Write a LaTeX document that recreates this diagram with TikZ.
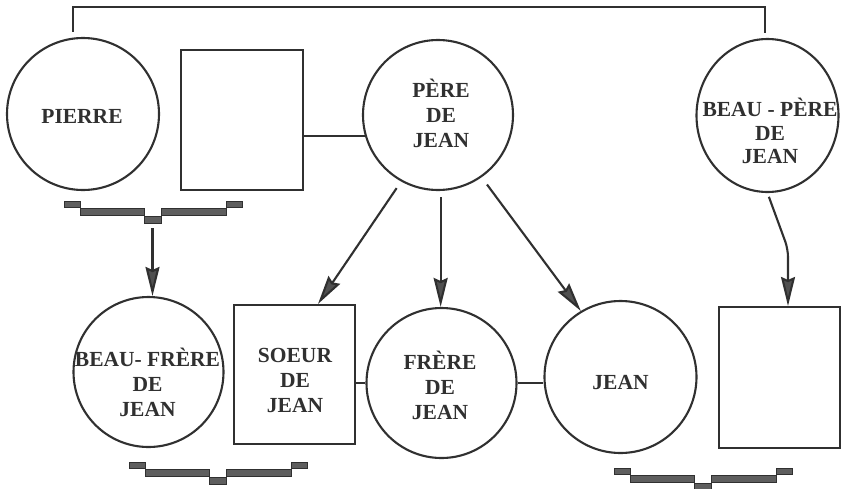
\documentclass[tikz,border=0pt]{standalone}
\usepackage{fontspec}
\setmainfont{Liberation Serif}
\usetikzlibrary{arrows.meta,shapes.geometric,calc}
\definecolor{ink}{HTML}{303030}
\definecolor{tipfill}{HTML}{505050}
\definecolor{barfill}{HTML}{5E5E5E}
\begin{document}
\begin{tikzpicture}[x=1pt,y=-1pt,
  pc/.style={circle,draw=ink,line width=2.1pt,inner sep=0pt,minimum size=#1},
  pe/.style={ellipse,draw=ink,line width=2.1pt,inner sep=0pt},
  pr/.style={rectangle,draw=ink,line width=2.1pt,inner sep=0pt},
  lbl/.style={text=ink,align=center,inner sep=0pt,font=\fontsize{21.5}{25}\selectfont\bfseries},
  link/.style={draw=ink,line width=2.1pt},
  arr/.style={link,-{Stealth[length=29pt,width=14pt,inset=3pt,fill=tipfill]}},
  bracepart/.style={fill=barfill,draw=ink,line width=0.7pt},
  brace/.pic={
    \path[bracepart] (0,0) rectangle (16,6);
    \path[bracepart] (16,7) rectangle (80,14);
    \path[bracepart] (80,15) rectangle (97,22);
    \path[bracepart] (97,7) rectangle (162,14);
    \path[bracepart] (162,0) rectangle (178,6);
    \coordinate (-tip) at (88.5,27);
  }
]
\useasboundingbox (0,0) rectangle (841,488);
\fill[white] (0,0) rectangle (841,488);

% shapes
\node[pc=152] (pierre) at (83,114) {};
\node[pr,minimum width=122,minimum height=140] (r1) at (242,120) {};
\node[pc=150] (pere) at (438,115) {};
\node[pe,minimum width=142,minimum height=153] (bp) at (767.5,115.5) {};
\node[pc=150] (bf) at (148.5,372) {};
\node[pr,minimum width=121,minimum height=139] (soeur) at (294.5,374.5) {};
\node[pc=150] (frere) at (441.5,383) {};
\node[pc=152] (jean) at (620.5,377) {};
\node[pr,minimum width=121,minimum height=141] (rr) at (779.5,377.5) {};

% labels
\node[lbl] (pierre-t) at (82,116) {PIERRE};
\node[lbl] (pere-t) at (441,113.5) {PÈRE\\DE\\JEAN};
\node[lbl,font=\fontsize{21.5}{23.5}\selectfont\bfseries] (bp-t) at (770,131) {BEAU - PÈRE\\DE\\JEAN};
\node[lbl] (bf-t) at (147.5,382) {BEAU- FRÈRE\\DE\\JEAN};
\node[lbl] (soeur-t) at (295,380) {SOEUR\\DE\\JEAN};
\node[lbl] (frere-t) at (440,385) {FRÈRE\\DE\\JEAN};
\node[lbl] (jean-t) at (620.5,383) {JEAN};

% braces
\path (64,201) pic (b1) {brace};
\path (129,462) pic (b2) {brace};
\path (614,468) pic (b3) {brace};

% top connector
\coordinate (tl) at (73,7);
\coordinate (tr) at (765,7);
\draw[link,shorten <=5pt,shorten >=5pt] (pierre.north -| tl) -- (tl) -- (tr) -- (bp.north -| tr);

% couple links
\draw[link] (pere.196) -- (pere.196 -| r1.east);
\draw[link] (frere.west) -- (frere.west -| soeur.east);
\draw[link] (frere.east) -- (frere.east -| jean.west);

% arrows
\draw[arr] (b1-tip) -- (b1-tip |- bf.north);
\draw[arr,shorten <=8pt] (pere.241) -- ([xshift=23.5pt]soeur.north);
\draw[arr,shorten <=6pt] (pere.272) -- (pere.272 |- frere.north);
\draw[arr,shorten <=9pt] (pere.305) -- (jean.121);
\coordinate (bend) at (788,249);
\draw[arr,shorten <=4pt,rounded corners=8pt] (bp.south) -- (bend) -- (bend |- rr.north);
\end{tikzpicture}
\end{document}
